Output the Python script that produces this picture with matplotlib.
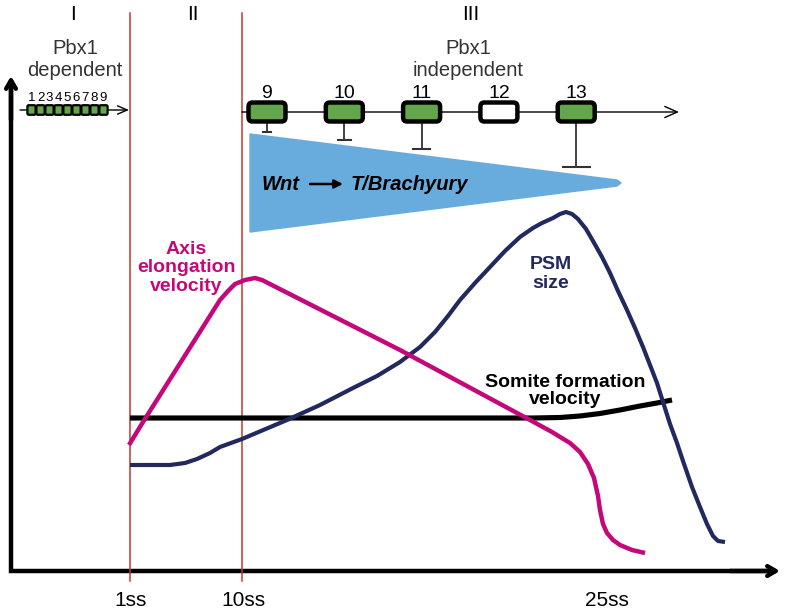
import matplotlib
matplotlib.use('Agg')
import matplotlib.pyplot as plt
from matplotlib.patches import FancyBboxPatch, Polygon

plt.rcParams['font.family'] = ['Liberation Sans', 'DejaVu Sans']

# stage ticks (drawn in pixel-like units, y grows downward)
stage_labels = ['1ss', '10ss', '25ss']
stage_x = [131, 243, 607]
phase_labels = ['I', 'II', 'III']
phase_x = [73, 193, 471]

# early somites (Pbx1 dependent)
early_numbers = [1, 2, 3, 4, 5, 6, 7, 8, 9]
# late somites (Pbx1 independent) and strength of Wnt inhibition
late_numbers = [9, 10, 11, 12, 13]
late_hox_active = [True, True, True, False, True]
late_inhibition = [8, 16, 25, 0, 43]

# curves
axis_x = [129, 143, 220, 228, 235, 245, 255, 262, 400, 530, 552, 570, 580, 588, 594, 598, 600, 603, 607, 613, 620, 632, 645]
axis_y = [445, 422, 300, 291, 284, 280, 278, 280, 350, 420, 432, 443, 452, 464, 478, 496, 510, 524, 533, 540, 545, 550, 553]

psm_x = [130, 170, 185, 197, 210, 220, 242, 287, 320, 353, 377, 400, 420, 435, 448, 460, 475, 490, 505,
         520, 533, 542, 553, 560, 566, 572, 578, 586, 593, 602, 610, 618, 627, 635, 643, 650, 657, 663,
         670, 677, 683, 692, 700, 707, 713, 718, 725]
psm_y = [465, 465, 463, 459, 453, 447, 439, 420, 405, 388, 376, 362, 347, 332, 316, 300, 283, 267, 251,
         237, 228, 223, 218, 214, 212, 214, 219, 229, 241, 257, 273, 291, 310, 328, 347, 365, 383, 402,
         424, 443, 461, 487, 507, 524, 536, 541, 542]

somite_x = [130, 300, 450, 533, 560, 580, 600, 620, 640, 657, 672]
somite_y = [418, 418, 418, 418, 417.5, 416, 413.5, 410, 406, 403, 400]

fig = plt.figure(figsize=(7.85, 6.10), dpi=100)
ax = fig.add_axes([0, 0, 1, 1])
ax.set_xlim(0, 785)
ax.set_ylim(610, 0)
ax.axis('off')

magenta = '#c4087a'
navy = '#22295e'
red = '#c0392b'
green = '#63a64c'
blue = '#68abdd'

# main axes
ax.plot([11, 11, 772], [84, 571, 571], color='black', lw=3.2, solid_joinstyle='miter')
ax.annotate('', xy=(11, 76), xytext=(11, 120),
            arrowprops=dict(arrowstyle='->,head_length=0.6,head_width=0.35', lw=3.2, color='black',
                            shrinkA=0, shrinkB=0))
ax.annotate('', xy=(780, 571), xytext=(730, 571),
            arrowprops=dict(arrowstyle='->,head_length=0.6,head_width=0.35', lw=3.2, color='black',
                            shrinkA=0, shrinkB=0))

# phase borders
for x in stage_x[:2]:
    ax.plot([x - 1, x - 1], [13, 581], color=red, lw=1.1)
for lab, x in zip(stage_labels, stage_x):
    ax.text(x, 601, lab, ha='center', va='center', fontsize=15)
for lab, x in zip(phase_labels, phase_x):
    ax.text(x, 14, lab, ha='center', va='center', fontsize=15)

ax.text(75, 60, 'Pbx1\ndependent', ha='center', va='center', fontsize=14.5, color='#333333',
        linespacing=1.2)
ax.text(468, 60, 'Pbx1\nindependent', ha='center', va='center', fontsize=14.5, color='#333333',
        linespacing=1.2)

# early timeline
ax.annotate('', xy=(129, 110), xytext=(20, 110),
            arrowprops=dict(arrowstyle='->,head_length=0.7,head_width=0.3', lw=1, color='black',
                            shrinkA=0, shrinkB=0))
for i, n in enumerate(early_numbers):
    cx = 31.5 + i * 9
    ax.add_patch(FancyBboxPatch((cx - 3.3, 106), 6.6, 8, boxstyle='round,pad=0.8,rounding_size=1.5',
                                fc=green, ec='black', lw=1.6, zorder=3))
    ax.text(cx, 98, str(n), ha='center', va='center', fontsize=9.5)

# late timeline
ax.annotate('', xy=(679, 112), xytext=(242, 112),
            arrowprops=dict(arrowstyle='->,head_length=0.9,head_width=0.4', lw=1, color='black',
                            shrinkA=0, shrinkB=0))
for i, (n, on, inh) in enumerate(zip(late_numbers, late_hox_active, late_inhibition)):
    cx = 267 + i * 77.3
    ax.add_patch(FancyBboxPatch((cx - 16, 105), 32, 14, boxstyle='round,pad=2.5,rounding_size=4',
                                fc=green if on else 'white', ec='black', lw=3.2, zorder=3))
    ax.text(cx, 94, str(n), ha='center', va='center', fontsize=14)
    if inh:
        ax.plot([cx, cx], [124, 124 + inh], color='#333333', lw=1.3)
        hw = 2 + inh * 0.27
        ax.plot([cx - hw, cx + hw], [124 + inh, 124 + inh], color='#333333', lw=1.5)

# Wnt gradient
ax.add_patch(Polygon([(250, 134), (617, 180), (621, 183), (617, 186), (250, 232)],
                     closed=True, fc=blue, ec=blue, lw=1, joinstyle='round'))
ax.text(262, 184, 'Wnt', ha='left', va='center', fontsize=14.5, fontweight='bold', style='italic')
ax.annotate('', xy=(343, 184), xytext=(310, 184),
            arrowprops=dict(arrowstyle='-|>,head_length=0.5,head_width=0.25', lw=1.8, color='black',
                            shrinkA=0, shrinkB=0))
ax.text(351, 184, 'T/Brachyury', ha='left', va='center', fontsize=14.5, fontweight='bold', style='italic')

# curves
ax.plot(somite_x, somite_y, color='black', lw=3.7, solid_capstyle='butt')
ax.plot(psm_x, psm_y, color=navy, lw=3.0, solid_joinstyle='round', solid_capstyle='butt')
ax.plot(axis_x, axis_y, color=magenta, lw=3.2, solid_joinstyle='round', solid_capstyle='butt')

ax.text(186, 268, 'Axis\nelongation\nvelocity', ha='center', va='center', fontsize=14,
        fontweight='bold', color=magenta, linespacing=1.12)
ax.text(551, 274, 'PSM\nsize', ha='center', va='center', fontsize=14, fontweight='bold',
        color=navy, linespacing=1.12)
ax.text(565, 391, 'Somite formation\nvelocity', ha='center', va='center', fontsize=14,
        fontweight='bold', color='black', linespacing=0.95)

fig.savefig('out.png', dpi=100)
